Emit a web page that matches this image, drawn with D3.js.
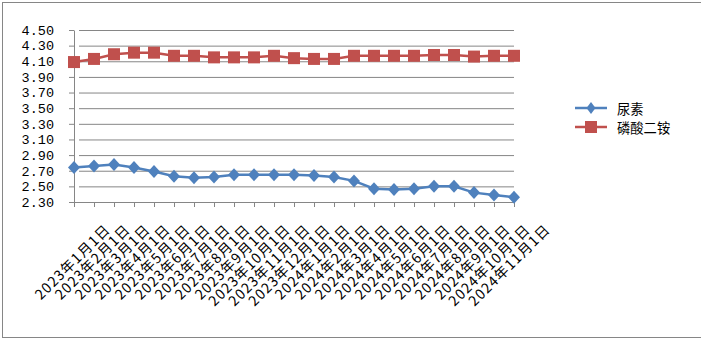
<!DOCTYPE html>
<html>
<head>
<meta charset="utf-8">
<script src="https://cdn.jsdelivr.net/npm/d3@7"></script>
<style>
  body { margin: 0; background: #fff; }
  svg text { fill: #000; }
</style>
</head>
<body>
<div id="plot-container"></div>
<script>
const categories = [
  '2023年1月1日', '2023年2月1日', '2023年3月1日', '2023年4月1日', '2023年5月1日', '2023年6月1日',
  '2023年7月1日', '2023年8月1日', '2023年9月1日', '2023年10月1日', '2023年11月1日', '2023年12月1日',
  '2024年1月1日', '2024年2月1日', '2024年3月1日', '2024年4月1日', '2024年5月1日', '2024年6月1日',
  '2024年7月1日', '2024年8月1日', '2024年9月1日', '2024年10月1日', '2024年11月1日'
];
const urea = [2.74, 2.76, 2.78, 2.74, 2.69, 2.63, 2.61, 2.62, 2.65, 2.65, 2.65, 2.65,
  2.64, 2.62, 2.57, 2.47, 2.46, 2.47, 2.50, 2.50, 2.42, 2.39, 2.36];
const dap = [4.09, 4.13, 4.19, 4.21, 4.21, 4.17, 4.17, 4.15, 4.15, 4.15, 4.17, 4.14,
  4.13, 4.13, 4.17, 4.17, 4.17, 4.17, 4.18, 4.18, 4.16, 4.17, 4.17];
const yTicks = [2.30, 2.50, 2.70, 2.90, 3.10, 3.30, 3.50, 3.70, 3.90, 4.10, 4.30, 4.50];
const seriesNames = ['尿素', '磷酸二铵'];

const W = 701, H = 351;
const cjk = '"Noto Sans CJK SC", "Noto Sans", sans-serif';
const blue = '#4F81BD', red = '#C0504D', grid = '#868686';

const svg = d3.select('#plot-container')
  .append('svg')
  .attr('width', W)
  .attr('height', H);

// chart border (right edge runs off the picture)
svg.append('rect')
  .attr('x', 2.5).attr('y', 2.5)
  .attr('width', 720).attr('height', 335)
  .attr('fill', 'none')
  .attr('stroke', grid);

const x = d3.scalePoint()
  .domain(categories)
  .range([74, 514]);

const y = d3.scaleLinear()
  .domain([2.3, 4.5])
  .range([202, 30]);

// gridlines + y axis
const yAxis = svg.append('g')
  .attr('transform', 'translate(74,0)')
  .call(d3.axisLeft(y)
    .tickValues(yTicks)
    .tickSize(-440)
    .tickSizeOuter(0)
    .tickPadding(20)
    .tickFormat(d3.format('.2f')));
yAxis.selectAll('.tick line')
  .attr('stroke', grid)
  .attr('x1', 5);
yAxis.selectAll('.tick line').clone()
  .attr('x1', -5).attr('x2', 0);
yAxis.select('.domain').attr('stroke', grid);
yAxis.selectAll('text')
  .style('font-family', '"Liberation Mono", monospace')
  .style('font-size', '13.5px');

// x axis
const xAxis = svg.append('g')
  .attr('transform', 'translate(0,202)')
  .call(d3.axisBottom(x).tickSize(5).tickSizeOuter(0).tickFormat(''));
xAxis.selectAll('line, path').attr('stroke', grid);

// rotated category labels
svg.append('g')
  .selectAll('text')
  .data(categories)
  .join('text')
  .attr('transform', d => `translate(${x(d) + 33},226) rotate(-45)`)
  .attr('text-anchor', 'end')
  .attr('dominant-baseline', 'central')
  .style('font-family', cjk)
  .style('font-size', '14px')
  .style('letter-spacing', '1.2px')
  .text(d => d);

const line = d3.line()
  .x((d, i) => x(categories[i]))
  .y(d => y(d));

// 尿素
svg.append('path')
  .datum(urea)
  .attr('d', line)
  .attr('fill', 'none')
  .attr('stroke', blue)
  .attr('stroke-width', 2.5);
svg.append('g')
  .selectAll('path')
  .data(urea)
  .join('path')
  .attr('transform', (d, i) => `translate(${x(categories[i])},${y(d)})`)
  .attr('d', 'M0,-6.5L6,0L0,6.5L-6,0Z')
  .attr('fill', blue);

// 磷酸二铵
svg.append('path')
  .datum(dap)
  .attr('d', line)
  .attr('fill', 'none')
  .attr('stroke', red)
  .attr('stroke-width', 2.5);
svg.append('g')
  .selectAll('rect')
  .data(dap)
  .join('rect')
  .attr('x', (d, i) => x(categories[i]) - 6)
  .attr('y', d => y(d) - 6)
  .attr('width', 12)
  .attr('height', 12)
  .attr('fill', red);

// legend
const legend = svg.append('g');
const colors = [blue, red];
seriesNames.forEach((name, i) => {
  const ly = 108 + i * 19;
  legend.append('line')
    .attr('x1', 575).attr('x2', 607)
    .attr('y1', ly).attr('y2', ly)
    .attr('stroke', colors[i])
    .attr('stroke-width', 2.5);
  if (i === 0) {
    legend.append('path')
      .attr('transform', `translate(591,${ly})`)
      .attr('d', 'M0,-6L4.5,0L0,6L-4.5,0Z')
      .attr('fill', blue);
  } else {
    legend.append('rect')
      .attr('x', 585).attr('y', ly - 6)
      .attr('width', 12).attr('height', 12)
      .attr('fill', red);
  }
  legend.append('text')
    .attr('x', 617).attr('y', ly)
    .attr('dominant-baseline', 'central')
    .style('font-family', cjk)
    .style('font-size', '13.3px')
    .text(name);
});
</script>
</body>
</html>
